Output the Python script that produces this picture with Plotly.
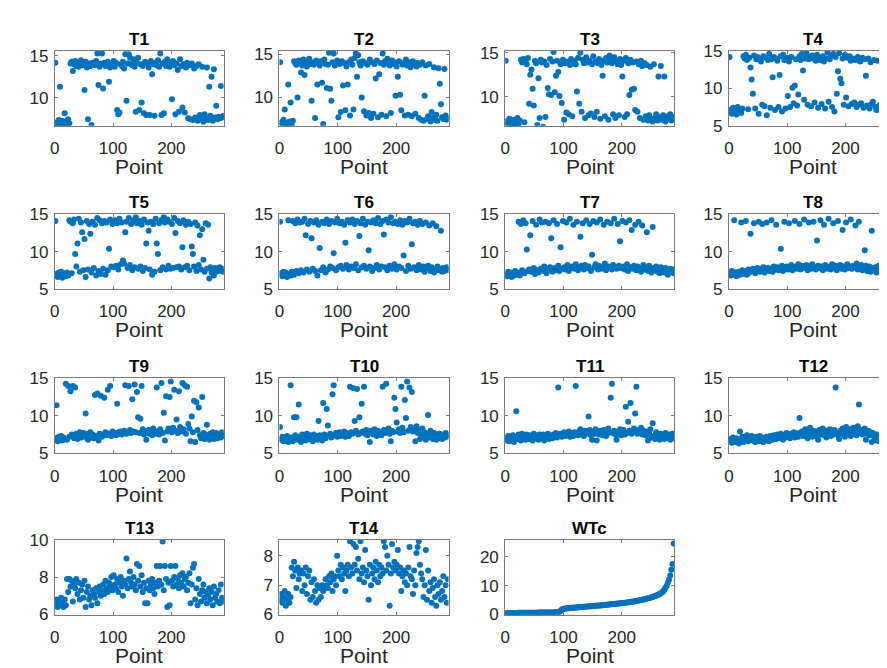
import plotly.graph_objects as go

# ---------------- data (every other point index 1,3,5,...) ----------------
T1 = [14.2, 7.0, 6.8, 7.3, 11.3, 6.9, 7.2, 6.7, 8.1, 7.1,
      6.8, 7.4, 6.9, 14.1, 14.3, 13.2, 14.0, 14.4, 13.8, 14.2,
      13.7, 14.1, 14.5, 13.9, 14.0, 10.9, 14.3, 13.6, 7.4, 14.1,
      13.8, 6.7, 14.2, 14.0, 13.9, 14.4, 15.3, 11.5, 13.7, 14.1,
      15.3, 11.1, 14.2, 13.8, 14.0, 14.3, 11.9, 13.6, 14.1, 13.9,
      14.4, 13.7, 14.2, 8.5, 8.0, 8.2, 14.0, 13.8, 14.3, 13.5,
      15.2, 9.6, 14.1, 15.2, 14.8, 14.0, 13.9, 14.6, 13.7, 8.3,
      14.2, 14.8, 8.5, 14.0, 9.4, 13.8, 8.1, 14.3, 7.9, 14.1,
      13.6, 7.9, 14.4, 12.8, 14.0, 7.8, 14.2, 13.9, 14.5, 13.7,
      15.3, 7.9, 14.1, 8.1, 14.3, 13.8, 14.6, 14.0, 13.7, 14.2,
      9.8, 14.4, 13.9, 8.0, 14.1, 13.3, 8.3, 14.6, 13.8, 8.8,
      14.0, 8.2, 13.6, 14.2, 7.5, 13.9, 7.4, 14.1, 7.3, 13.5,
      7.6, 13.8, 7.2, 14.0, 7.9, 7.4, 13.7, 7.1, 8.0, 7.5,
      13.6, 7.3, 11.3, 7.8, 12.5, 7.2, 13.4, 7.6, 9.0, 7.4,
      7.7, 7.5, 11.4, 7.6, 7.8]

T2 = [14.1, 7.1, 6.9, 7.4, 8.6, 7.0, 6.8, 11.5, 7.2, 9.4,
      6.9, 7.3, 14.2, 14.0, 13.8, 10.0, 14.3, 14.1, 12.9, 13.7,
      14.4, 12.6, 14.0, 13.6, 14.2, 14.5, 13.9, 9.6, 14.1, 13.8,
      7.6, 14.3, 11.5, 14.0, 13.7, 14.2, 11.7, 6.9, 14.4, 13.9,
      11.1, 13.8, 15.2, 11.0, 9.6, 14.1, 15.1, 13.7, 14.0, 14.3,
      7.7, 13.9, 8.3, 14.2, 11.4, 14.0, 8.5, 13.6, 11.5, 14.1,
      7.9, 14.4, 13.8, 8.6, 14.6, 15.1, 12.4, 14.9, 14.1, 13.7,
      10.0, 14.2, 8.4, 14.0, 7.9, 13.8, 8.2, 14.4, 7.6, 14.1,
      8.1, 13.9, 12.2, 14.3, 7.7, 12.7, 14.0, 8.0, 15.1, 13.8,
      14.2, 7.8, 14.5, 14.0, 13.7, 8.2, 14.3, 13.9, 14.1, 10.2,
      13.6, 12.4, 14.2, 10.3, 8.5, 13.8, 14.0, 7.9, 14.4, 13.7,
      8.0, 14.1, 13.5, 7.8, 14.2, 13.9, 8.1, 13.6, 14.0, 7.6,
      13.8, 7.4, 14.1, 7.3, 10.2, 13.7, 7.5, 7.8, 13.9, 7.2,
      8.3, 7.6, 13.5, 7.4, 8.0, 7.3, 13.4, 11.6, 9.2, 7.7,
      7.5, 13.3, 7.9, 7.4, 7.6]

T3 = [14.1, 7.2, 6.8, 7.5, 6.9, 7.1, 6.7, 7.4, 7.0, 6.8,
      7.6, 6.9, 7.3, 14.2, 13.9, 14.3, 7.1, 14.0, 13.7, 14.4,
      9.2, 12.5, 13.1, 10.9, 9.0, 14.1, 13.8, 6.8, 12.1, 7.6,
      14.2, 13.9, 6.6, 14.0, 7.7, 13.6, 11.0, 10.3, 14.3, 10.2,
      14.0, 15.1, 10.5, 12.4, 14.1, 12.8, 10.1, 13.7, 9.3, 14.2,
      7.4, 13.8, 8.2, 14.0, 8.0, 13.6, 14.3, 7.8, 13.9, 14.1,
      13.7, 10.6, 14.4, 9.2, 15.0, 8.3, 14.2, 13.8, 7.6, 14.5,
      13.9, 7.9, 14.1, 8.1, 13.7, 14.6, 7.7, 14.0, 8.3, 13.8,
      14.3, 7.5, 13.6, 12.4, 14.1, 7.8, 14.4, 13.9, 7.4, 14.7,
      14.2, 13.8, 8.0, 14.5, 7.6, 14.0, 13.7, 7.9, 14.3, 13.6,
      12.3, 14.1, 7.7, 14.4, 8.0, 13.8, 10.2, 14.2, 10.8, 13.9,
      10.9, 8.5, 14.0, 8.3, 13.7, 7.6, 14.1, 13.5, 7.4, 13.8,
      7.8, 13.6, 7.3, 7.9, 13.4, 7.5, 7.2, 13.7, 7.6, 8.0,
      7.3, 12.3, 7.7, 13.5, 7.4, 7.9, 12.3, 7.2, 7.6, 7.8,
      7.5, 8.0, 7.3, 7.7, 7.4]

T4 = [14.2, 7.1, 6.6, 7.4, 6.9, 7.2, 6.5, 7.5, 6.8, 7.0,
      6.7, 7.3, 14.3, 14.0, 14.5, 13.8, 7.2, 14.1, 12.8, 11.2,
      9.3, 14.4, 7.3, 13.9, 14.2, 6.6, 14.0, 13.6, 7.8, 14.3,
      7.6, 14.1, 6.4, 13.8, 14.6, 7.4, 13.9, 11.5, 14.2, 7.1,
      14.0, 13.7, 7.5, 11.8, 14.3, 6.9, 14.5, 13.8, 7.3, 14.1,
      9.0, 13.6, 7.5, 14.2, 10.1, 8.0, 10.4, 13.9, 7.7, 9.2,
      14.3, 13.8, 14.6, 12.4, 8.5, 14.0, 14.7, 7.8, 13.9, 14.2,
      7.6, 14.4, 14.0, 8.1, 13.7, 14.5, 7.4, 14.1, 13.8, 7.9,
      14.3, 13.6, 7.3, 14.0, 14.8, 8.2, 13.9, 14.4, 7.5, 14.6,
      6.9, 14.2, 9.3, 12.3, 14.7, 11.3, 10.7, 14.0, 7.8, 14.5,
      8.8, 14.1, 7.6, 14.3, 13.7, 7.9, 14.0, 8.1, 13.8, 7.5,
      14.2, 7.8, 13.6, 8.0, 14.1, 7.4, 13.9, 11.7, 7.7, 14.0,
      7.3, 13.5, 7.9, 8.2, 13.8, 7.5, 7.1, 13.7, 7.6, 7.8,
      7.4, 7.2, 12.3, 7.9, 10.0, 7.3, 9.1, 7.7, 7.5, 7.8,
      7.6, 7.4, 7.9, 7.7, 7.5]

T5 = [14.1, 7.0, 6.6, 7.2, 6.8, 7.3, 6.5, 7.1, 6.9, 6.7,
      7.2, 6.8, 14.2, 14.0, 7.1, 13.8, 14.3, 9.7, 8.0, 11.1,
      14.4, 7.3, 13.9, 12.6, 7.5, 11.7, 6.6, 14.1, 7.6, 13.7,
      12.4, 7.2, 14.0, 7.8, 13.6, 6.8, 14.5, 7.4, 14.2, 7.0,
      13.8, 7.7, 14.1, 6.9, 13.9, 7.5, 10.4, 14.3, 8.0, 13.7,
      7.9, 14.2, 8.1, 13.8, 7.6, 14.4, 8.3, 13.9, 8.8, 8.4,
      12.6, 14.0, 7.8, 14.5, 8.2, 13.7, 7.5, 14.2, 7.9, 14.6,
      13.8, 7.7, 14.1, 8.0, 13.6, 7.4, 14.3, 7.8, 11.1, 13.9,
      12.8, 7.6, 14.0, 6.9, 13.7, 7.3, 14.4, 11.1, 9.7, 13.8,
      7.5, 14.2, 7.9, 14.6, 13.9, 7.6, 14.3, 8.1, 14.0, 7.7,
      13.7, 7.8, 14.5, 12.5, 7.9, 14.1, 8.0, 13.8, 7.6, 10.6,
      14.2, 7.9, 13.6, 8.1, 14.0, 7.5, 13.7, 10.7, 9.7, 8.0,
      13.9, 7.4, 13.5, 8.2, 12.2, 7.6, 13.0, 8.9, 7.3, 13.8,
      7.7, 13.6, 6.4, 7.9, 7.2, 7.5, 6.8, 7.8, 7.3, 7.6,
      7.4, 7.9, 7.5, 7.7, 7.3]

T6 = [14.0, 7.1, 6.7, 7.3, 6.9, 7.2, 6.6, 14.2, 7.0, 6.8,
      7.3, 14.1, 6.9, 13.8, 7.4, 14.3, 7.1, 13.9, 7.5, 14.0,
      7.2, 14.4, 12.2, 7.6, 13.7, 7.3, 14.1, 11.8, 7.7, 13.9,
      7.4, 14.2, 6.8, 13.6, 10.5, 7.5, 14.0, 7.9, 13.8, 7.2,
      14.3, 7.6, 13.7, 8.0, 14.1, 7.8, 9.8, 13.9, 7.5, 14.4,
      7.9, 13.8, 8.1, 14.0, 7.7, 13.6, 11.2, 8.2, 14.2, 7.6,
      13.9, 8.0, 14.3, 7.8, 13.7, 8.3, 14.1, 7.5, 12.1, 13.8,
      7.9, 14.4, 8.1, 13.6, 7.7, 14.0, 10.2, 8.0, 13.9, 7.4,
      14.2, 7.8, 13.8, 8.2, 14.5, 7.6, 13.7, 8.0, 14.1, 12.3,
      7.9, 14.3, 7.5, 13.9, 8.1, 14.6, 7.7, 13.8, 8.3, 14.0,
      7.6, 13.7, 8.0, 14.2, 7.8, 13.6, 9.5, 14.1, 7.4, 13.9,
      8.1, 14.4, 7.7, 11.0, 13.8, 7.9, 14.0, 7.5, 13.6, 8.2,
      14.1, 7.6, 13.7, 8.0, 7.3, 13.9, 7.8, 8.1, 13.5, 7.4,
      7.9, 13.8, 7.2, 7.6, 13.4, 8.0, 7.5, 7.7, 12.8, 7.3,
      7.8, 7.4, 7.6, 7.9, 7.5]

T7 = [7.0, 6.7, 7.3, 6.9, 7.2, 6.6, 7.1, 6.8, 7.4, 6.9,
      7.2, 14.0, 6.8, 13.7, 7.5, 14.2, 7.1, 13.8, 10.3, 7.4,
      7.6, 12.2, 7.3, 14.1, 7.8, 7.0, 13.6, 7.5, 7.2, 14.3,
      7.7, 13.9, 7.4, 8.0, 14.0, 7.1, 7.6, 13.8, 7.9, 11.8,
      7.3, 14.2, 7.8, 7.5, 13.7, 8.1, 7.4, 10.6, 7.7, 14.1,
      7.9, 7.6, 13.9, 8.2, 7.4, 14.4, 7.8, 8.0, 13.6, 7.7,
      8.3, 14.0, 7.5, 7.9, 12.0, 8.1, 13.8, 7.6, 8.2, 14.2,
      7.8, 8.0, 13.7, 7.4, 9.6, 14.1, 7.9, 8.3, 13.9, 7.6,
      8.1, 14.3, 7.7, 7.9, 13.6, 8.4, 7.5, 14.0, 8.0, 7.8,
      13.8, 7.6, 8.2, 14.4, 7.9, 7.7, 13.7, 8.1, 11.4, 7.8,
      14.1, 8.0, 7.6, 13.9, 8.3, 7.4, 14.2, 7.9, 12.9, 7.7,
      8.1, 13.6, 7.5, 8.0, 14.0, 7.8, 7.3, 13.5, 8.2, 7.6,
      7.9, 12.6, 7.4, 8.1, 7.7, 7.2, 13.3, 7.8, 7.5, 8.0,
      7.3, 7.7, 7.1, 7.9, 7.4, 7.6, 7.2, 7.8, 7.5, 6.9,
      7.4, 7.7, 7.3, 7.6, 7.1]

T8 = [7.1, 6.8, 7.4, 6.9, 14.2, 7.2, 6.7, 7.0, 7.3, 6.9,
      13.9, 7.5, 7.0, 7.3, 14.1, 6.9, 7.6, 7.2, 12.4, 7.4,
      7.7, 13.8, 7.1, 7.5, 7.8, 14.0, 7.3, 7.6, 13.7, 7.9,
      7.2, 7.5, 13.9, 7.8, 7.4, 7.7, 14.2, 7.3, 8.0, 7.6,
      13.6, 7.9, 7.5, 7.8, 10.4, 8.1, 7.4, 14.0, 7.7, 8.0,
      7.6, 13.8, 7.9, 8.2, 7.5, 7.8, 14.1, 8.0, 7.7, 8.3,
      13.7, 7.6, 8.1, 7.9, 14.3, 7.8, 8.2, 7.5, 13.9, 8.0,
      7.7, 8.3, 14.0, 7.9, 7.6, 11.5, 8.1, 7.8, 14.2, 8.0,
      7.5, 13.6, 8.2, 7.9, 7.7, 14.4, 8.0, 7.6, 8.3, 13.8,
      7.8, 8.1, 7.5, 14.1, 7.9, 8.2, 7.7, 12.9, 8.0, 7.6,
      13.9, 8.3, 7.8, 8.0, 14.3, 7.7, 8.1, 7.9, 13.5, 8.4,
      7.6, 14.0, 7.9, 8.2, 7.5, 7.8, 10.2, 8.1, 7.4, 7.7,
      8.0, 7.3, 12.8, 7.8, 7.5, 7.9, 7.2, 7.6, 8.1, 7.4,
      7.7, 7.1, 7.9, 7.5, 7.3, 7.8, 7.0, 7.6, 7.4, 7.7,
      7.2, 7.8, 7.5, 7.3, 7.6]

T9 = [7.0, 11.4, 6.6, 7.2, 6.8, 7.3, 6.7, 7.1, 6.9, 14.3,
      6.8, 14.0, 7.2, 13.3, 7.5, 14.0, 7.0, 13.8, 7.6, 6.9,
      7.4, 7.8, 7.1, 7.5, 7.7, 7.2, 10.3, 7.6, 6.8, 7.4,
      7.8, 7.1, 7.5, 7.0, 12.8, 7.3, 13.0, 6.7, 7.6, 12.7,
      7.2, 7.5, 12.4, 7.8, 7.4, 13.5, 7.6, 14.0, 7.3, 7.9,
      7.5, 7.7, 7.4, 11.6, 7.8, 7.6, 7.9, 7.5, 7.7, 8.0,
      14.1, 7.6, 7.8, 14.0, 8.1, 7.7, 12.2, 7.9, 14.2, 7.8,
      13.2, 9.8, 7.7, 9.6, 14.0, 8.2, 7.5, 7.9, 6.8, 7.7,
      8.1, 7.6, 7.9, 7.4, 8.3, 7.8, 7.6, 13.8, 7.9, 7.5,
      8.2, 14.4, 7.7, 10.4, 6.7, 12.6, 7.9, 8.3, 12.5, 14.6,
      7.8, 8.4, 13.5, 8.0, 9.5, 7.7, 13.3, 8.5, 7.9, 14.4,
      8.2, 14.1, 7.6, 13.9, 8.9, 8.3, 6.6, 9.9, 7.8, 12.0,
      6.5, 11.8, 8.1, 11.1, 7.4, 7.0, 12.5, 7.7, 6.9, 7.5,
      8.8, 7.2, 6.8, 7.6, 7.1, 7.8, 6.9, 7.3, 7.7, 7.0,
      7.4, 7.6, 7.1, 7.8, 7.3]

T10 = [8.5, 6.8, 7.2, 6.6, 7.0, 6.7, 7.3, 6.5, 6.9, 14.1,
       7.1, 6.6, 9.8, 7.4, 9.8, 6.8, 11.5, 7.2, 6.5, 7.5,
       7.0, 7.3, 6.7, 7.6, 7.1, 6.9, 7.4, 7.2, 6.6, 7.5,
       7.0, 7.3, 6.8, 9.3, 7.4, 7.1, 6.7, 11.7, 7.5, 7.0,
       10.9, 8.7, 7.3, 7.6, 7.1, 12.9, 14.1, 7.4, 7.7, 7.2,
       7.5, 7.8, 7.3, 7.6, 7.4, 7.9, 7.2, 7.7, 7.5, 7.3,
       13.9, 7.8, 7.6, 13.7, 9.3, 8.0, 13.6, 7.5, 9.8, 7.7,
       11.6, 7.9, 13.9, 7.6, 8.1, 7.4, 7.8, 6.5, 8.0, 7.7,
       7.5, 8.2, 7.9, 7.3, 8.0, 7.6, 7.8, 7.4, 13.9, 8.1,
       7.7, 14.3, 7.9, 8.3, 7.6, 6.6, 8.0, 7.8, 12.4, 10.9,
       9.1, 7.9, 8.2, 7.7, 13.9, 8.4, 7.8, 12.1, 9.7, 14.6,
       8.0, 13.8, 8.5, 13.2, 7.9, 8.3, 6.6, 8.6, 7.7, 8.1,
       6.9, 7.5, 8.3, 7.2, 7.8, 6.8, 7.6, 10.1, 7.1, 8.0,
       7.4, 6.9, 7.7, 7.2, 6.8, 7.5, 7.0, 7.6, 7.3, 6.9,
       7.4, 7.1, 7.7, 7.2, 7.5]

T11 = [7.0, 6.7, 7.3, 6.6, 7.1, 6.8, 7.4, 6.5, 7.2, 10.6,
       6.9, 7.5, 7.1, 6.7, 7.6, 7.0, 7.3, 6.8, 7.5, 7.2,
       6.9, 7.4, 7.1, 6.7, 7.6, 7.3, 7.0, 7.4, 6.8, 7.5,
       7.2, 7.0, 7.5, 6.7, 7.3, 7.1, 7.6, 6.9, 7.4, 7.2,
       7.0, 7.5, 7.3, 7.7, 7.1, 13.8, 7.4, 7.6, 7.2, 7.5,
       7.8, 7.3, 7.6, 7.4, 7.9, 7.2, 7.7, 7.5, 7.3, 7.8,
       14.0, 7.6, 7.4, 7.9, 8.2, 7.5, 7.8, 7.3, 8.0, 7.6,
       7.7, 9.9, 8.1, 7.4, 6.8, 7.9, 7.6, 8.2, 6.7, 7.8,
       7.5, 8.0, 7.7, 7.4, 8.1, 7.9, 7.3, 7.6, 8.3, 7.8,
       12.4, 14.3, 7.7, 8.0, 7.5, 6.8, 7.9, 7.6, 8.2, 7.4,
       7.8, 8.1, 7.5, 11.2, 7.7, 9.2, 8.0, 11.7, 7.6, 7.9,
       8.3, 10.3, 13.9, 7.6, 8.1, 7.8, 8.4, 7.5, 8.0, 7.7,
       7.4, 7.9, 6.7, 7.6, 8.2, 7.1, 9.0, 7.3, 6.9, 7.8,
       7.0, 7.5, 6.8, 7.6, 7.2, 7.4, 6.9, 7.7, 7.1, 7.3,
       7.5, 6.8, 7.2, 7.6, 7.0]

T12 = [6.6, 6.9, 6.4, 7.1, 6.7, 6.5, 7.0, 6.8, 6.3, 7.9,
       6.7, 7.2, 6.5, 7.0, 6.8, 7.4, 6.6, 7.1, 6.9, 7.3,
       6.7, 7.0, 6.5, 7.2, 6.9, 6.6, 7.3, 6.8, 7.1, 6.5,
       7.0, 6.7, 7.2, 6.9, 6.6, 7.3, 7.0, 6.8, 7.4, 7.1,
       6.9, 7.5, 7.2, 7.0, 7.6, 7.3, 6.8, 7.4, 7.1, 7.7,
       7.2, 7.5, 7.0, 7.6, 7.3, 7.8, 7.1, 7.4, 7.7, 7.2,
       9.7, 7.5, 7.9, 7.3, 7.6, 8.2, 7.4, 7.0, 7.8, 8.4,
       7.5, 7.2, 8.0, 7.6, 7.3, 7.9, 6.8, 8.1, 7.5, 7.7,
       8.3, 7.4, 7.8, 7.1, 8.0, 7.6, 8.2, 7.3, 7.9, 7.5,
       8.1, 13.8, 7.7, 7.4, 6.9, 8.0, 7.6, 8.3, 7.8, 7.2,
       8.5, 7.9, 7.5, 8.2, 7.3, 7.8, 8.4, 7.6, 8.0, 7.4,
       8.6, 11.5, 7.7, 8.1, 7.5, 7.9, 8.3, 6.8, 7.6, 8.0,
       7.4, 7.8, 6.5, 7.7, 7.2, 6.7, 7.5, 7.0, 6.6, 7.3,
       6.9, 7.4, 6.5, 7.1, 6.8, 7.2, 6.6, 7.0, 6.4, 6.9,
       7.1, 6.7, 6.5, 7.0, 6.6]

T13 = [6.6, 6.8, 6.4, 6.7, 6.5, 6.9, 6.6, 6.4, 6.8, 6.5,
       7.9, 7.2, 7.9, 7.5, 7.8, 6.7, 7.6, 7.4, 7.9, 7.1,
       7.7, 6.8, 7.3, 7.6, 6.9, 7.8, 6.4, 7.2, 7.5, 6.8,
       7.0, 6.5, 7.3, 7.1, 6.9, 7.4, 6.6, 7.2, 7.5, 7.0,
       7.3, 7.6, 7.1, 7.8, 7.4, 7.2, 7.7, 7.5, 8.0, 7.3,
       8.1, 7.6, 7.4, 7.9, 7.2, 7.7, 8.0, 7.5, 7.0, 7.8,
       7.6, 9.0, 7.4, 7.9, 8.3, 7.7, 7.5, 8.0, 7.6, 7.3,
       8.7, 7.8, 8.6, 7.5, 8.1, 7.2, 7.7, 6.6, 7.4, 6.6,
       7.8, 7.3, 7.6, 7.9, 7.4, 7.1, 7.7, 8.6, 7.5, 7.8,
       8.6, 7.6, 9.9, 7.3, 8.6, 7.9, 6.4, 7.7, 6.5, 8.6,
       7.8, 7.5, 8.0, 8.6, 7.6, 7.9, 7.4, 8.1, 7.7, 8.2,
       7.5, 7.9, 8.0, 7.3, 7.7, 8.2, 6.6, 7.6, 8.5, 8.7,
       6.8, 7.4, 6.5, 7.9, 7.1, 6.7, 7.3, 7.6, 6.9, 7.2,
       6.6, 7.0, 7.4, 6.8, 7.2, 6.5, 7.5, 6.9, 7.1, 6.7,
       7.3, 6.6, 7.6, 6.9, 6.7]

T14 = [6.5, 6.7, 6.4, 6.6, 6.8, 6.3, 6.5, 6.7, 6.4, 6.6,
       7.6, 7.3, 7.8, 7.5, 6.9, 7.6, 7.2, 7.4, 7.5, 6.8,
       7.4, 7.0, 7.6, 6.7, 7.3, 7.5, 6.5, 7.1, 6.6, 7.2,
       6.8, 6.4, 7.0, 6.5, 6.9, 6.6, 7.0, 6.8, 6.9, 7.2,
       7.0, 6.9, 7.3, 7.1, 7.4, 6.8, 7.2, 7.3, 7.0, 8.0,
       7.5, 7.3, 7.7, 7.2, 7.6, 7.4, 6.8, 7.5, 7.7, 7.3,
       8.5, 7.6, 7.4, 8.4, 7.7, 8.3, 7.5, 7.9, 7.2, 8.5,
       7.4, 7.6, 7.1, 8.2, 7.5, 7.3, 6.5, 7.7, 7.0, 7.4,
       7.6, 7.2, 7.8, 7.5, 7.1, 7.7, 7.3, 7.6, 7.4, 8.5,
       8.3, 7.5, 8.0, 7.7, 6.3, 7.4, 8.4, 7.6, 7.8, 7.5,
       7.7, 8.2, 7.4, 7.6, 6.8, 7.3, 7.5, 7.1, 7.4, 7.0,
       7.6, 8.3, 7.3, 7.2, 6.7, 7.5, 7.0, 8.1, 8.3, 8.5,
       7.7, 7.4, 7.2, 6.6, 7.0, 8.2, 6.5, 7.5, 6.8, 7.1,
       6.4, 6.9, 7.2, 6.6, 6.3, 7.0, 6.7, 7.1, 6.5, 6.8,
       7.3, 6.6, 7.0, 6.4, 7.2]

WTc = [0.45, 0.47, 0.48, 0.5, 0.5, 0.52, 0.53, 0.54, 0.55, 0.55,
       0.56, 0.57, 0.57, 0.58, 0.58, 0.59, 0.6, 0.6, 0.61, 0.61,
       0.62, 0.62, 0.63, 0.63, 0.64, 0.64, 0.65, 0.65, 0.66, 0.66,
       0.67, 0.67, 0.68, 0.68, 0.69, 0.69, 0.7, 0.7, 0.71, 0.72,
       0.72, 0.73, 0.74, 0.75, 0.76, 0.78, 0.8, 1.3, 1.7, 1.9,
       2.0, 2.05, 2.1, 2.15, 2.2, 2.25, 2.3, 2.33, 2.36, 2.4,
       2.43, 2.46, 2.5, 2.53, 2.56, 2.6, 2.63, 2.66, 2.7, 2.73,
       2.76, 2.8, 2.83, 2.86, 2.9, 2.93, 2.97, 3.0, 3.04, 3.08,
       3.12, 3.16, 3.2, 3.24, 3.28, 3.32, 3.36, 3.4, 3.45, 3.5,
       3.55, 3.58, 3.62, 3.66, 3.7, 3.74, 3.78, 3.82, 3.86, 3.9,
       3.95, 4.0, 4.05, 4.1, 4.16, 4.22, 4.28, 4.34, 4.4, 4.47,
       4.54, 4.61, 4.68, 4.76, 4.84, 4.92, 5.0, 5.1, 5.2, 5.3,
       5.4, 5.5, 5.6, 5.72, 5.84, 5.96, 6.1, 6.25, 6.4, 6.55,
       6.7, 6.9, 7.1, 7.4, 7.7, 8.0, 8.6, 9.3, 10.0, 11.0,
       12.0, 13.5, 15.5, 17.5, 24.6]

titles = ["T1", "T2", "T3", "T4", "T5", "T6", "T7", "T8",
          "T9", "T10", "T11", "T12", "T13", "T14", "WTc"]
series = [T1, T2, T3, T4, T5, T6, T7, T8, T9, T10, T11, T12, T13, T14, WTc]
y_ranges = [[6.6, 15.6], [6.7, 15.4], [6.7, 15.2], [5, 15],
            [5, 15], [5, 15], [5, 15], [5, 15],
            [5, 15], [5, 15], [5, 15], [5, 15],
            [6, 10], [6, 8.55], [0, 25.9]]
y_ticks = [[10, 15], [10, 15], [10, 15], [5, 10, 15],
           [5, 10, 15], [5, 10, 15], [5, 10, 15], [5, 10, 15],
           [5, 10, 15], [5, 10, 15], [5, 10, 15], [5, 10, 15],
           [6, 8, 10], [6, 7, 8], [0, 10, 20]]
x_ticks = [0, 100, 200]
x_max = 290
x_label = "Point"

# ---------------- layout geometry (pixels) ----------------
W, H = 887, 668
col_left = [42, 268, 495, 720]
box_w = 170
row_top = [35, 203, 372, 538]
box_h = 77

FONT = "Liberation Sans, Arial, Helvetica, sans-serif"
AXC = "#7a7a7a"
TXT = "#262626"
BLUE = "#0072BD"

fig = go.Figure()
layout = dict(width=W, height=H, margin=dict(l=0, r=0, t=0, b=0),
              paper_bgcolor="white", plot_bgcolor="white",
              showlegend=False, font=dict(family=FONT, color=TXT))
annotations = []

for k, (name, ys) in enumerate(zip(titles, series)):
    r, c = divmod(k, 4)
    sfx = "" if k == 0 else str(k + 1)
    xs = list(range(1, 2 * len(ys), 2))
    fig.add_trace(go.Scatter(x=xs, y=ys, mode="markers",
                             marker=dict(size=6, color=BLUE, line=dict(width=0)),
                             xaxis="x" + sfx, yaxis="y" + sfx,
                             hoverinfo="skip", showlegend=False))
    left = col_left[c]
    right = min(left + box_w, W)
    top = row_top[r]
    bottom = top + box_h
    xr = [0, x_max * (right - left) / box_w]
    layout["xaxis" + sfx] = dict(
        domain=[left / W, right / W], range=xr, anchor="y" + sfx,
        tickmode="array", tickvals=x_ticks, ticks="inside", ticklen=3,
        tickcolor=AXC, showline=True, linecolor=AXC, linewidth=1,
        mirror="ticks", showgrid=False, zeroline=False,
        tickfont=dict(size=17, color=TXT, family=FONT),
        ticklabelstandoff=7, fixedrange=True)
    layout["yaxis" + sfx] = dict(
        domain=[1 - bottom / H, 1 - top / H], range=y_ranges[k], anchor="x" + sfx,
        tickmode="array", tickvals=y_ticks[k], ticks="inside", ticklen=3,
        tickcolor=AXC, showline=True, linecolor=AXC, linewidth=1,
        mirror=("ticks" if c < 3 else False), showgrid=False, zeroline=False,
        tickfont=dict(size=17, color=TXT, family=FONT),
        ticklabelstandoff=2, fixedrange=True)
    cx = (left + left + box_w) / 2 / W
    annotations.append(dict(text="<b>%s</b>" % name, x=cx, y=1 - (top - 12) / H,
                            xref="paper", yref="paper", xanchor="center", yanchor="middle",
                            showarrow=False, font=dict(size=17, color="#000000", family=FONT)))
    annotations.append(dict(text=x_label, x=cx, y=1 - (bottom + 42) / H,
                            xref="paper", yref="paper", xanchor="center", yanchor="middle",
                            showarrow=False, font=dict(size=21, color=TXT, family=FONT)))

layout["annotations"] = annotations
fig.update_layout(**layout)
fig.write_html("out.html")
